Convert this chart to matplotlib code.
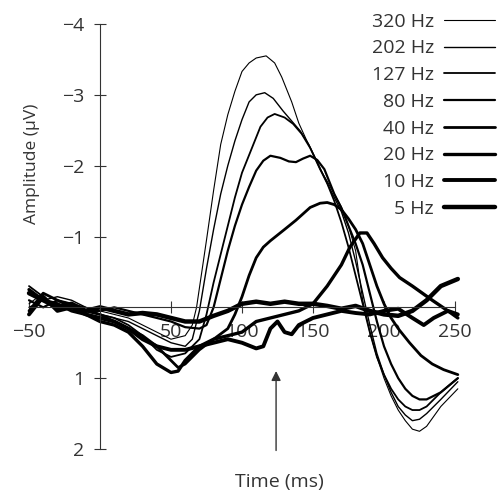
import matplotlib.pyplot as plt

plt.rcParams['font.family'] = ['Open Sans', 'DejaVu Sans']

labels = ['320 Hz', '202 Hz', '127 Hz', '80 Hz', '40 Hz', '20 Hz', '10 Hz', '5 Hz']
widths = [0.8, 1.0, 1.3, 1.6, 2.0, 2.4, 2.8, 3.2]

t_320 = [-50, -40, -30, -20, -10, 0, 10, 20, 30, 40, 50, 60, 65, 68, 75, 80, 85, 90, 95, 100,
         105, 110, 117, 123, 128, 135, 140, 145, 150, 155, 160, 165, 170, 175, 180, 185, 190,
         195, 200, 205, 210, 215, 220, 225, 230, 240, 252]
v_320 = [-0.05, -0.2, -0.1, -0.05, 0.0, 0.05, 0.1, 0.15, 0.25, 0.35, 0.45, 0.4, 0.25, 0.0,
         -0.95, -1.65, -2.3, -2.72, -3.05, -3.33, -3.45, -3.52, -3.55, -3.45, -3.25, -2.9,
         -2.6, -2.38, -2.17, -1.95, -1.78, -1.6, -1.42, -1.15, -0.8, -0.1, 0.35, 0.7, 1.0,
         1.25, 1.45, 1.6, 1.72, 1.75, 1.68, 1.4, 1.15]

t_202 = [-50, -40, -30, -20, -10, 0, 10, 20, 30, 40, 50, 60, 65, 70, 75, 80, 85, 90, 95, 100,
         105, 110, 116, 122, 129, 135, 141, 147, 153, 160, 165, 170, 175, 180, 185, 190, 195,
         200, 205, 210, 215, 220, 225, 230, 240, 252]
v_202 = [0.0, -0.1, -0.15, -0.1, 0.0, 0.1, 0.15, 0.2, 0.3, 0.4, 0.5, 0.55, 0.45, 0.05, -0.55,
         -1.1, -1.6, -2.0, -2.35, -2.65, -2.9, -3.0, -3.03, -2.95, -2.77, -2.63, -2.49, -2.3,
         -2.05, -1.75, -1.55, -1.35, -1.05, -0.65, -0.2, 0.25, 0.65, 0.95, 1.2, 1.4, 1.52,
         1.6, 1.58, 1.5, 1.3, 1.05]

t_127 = [-50, -40, -30, -20, -10, 0, 10, 20, 30, 40, 50, 60, 70, 75, 80, 85, 90, 95, 100, 106,
         113, 118, 123, 130, 136, 142, 148, 155, 160, 165, 170, 175, 180, 185, 190, 195, 200,
         205, 210, 215, 220, 225, 230, 240, 252]
v_127 = [-0.3, -0.15, 0.05, 0.0, 0.05, 0.1, 0.15, 0.25, 0.4, 0.6, 0.7, 0.65, 0.45, 0.1, -0.35,
         -0.75, -1.15, -1.55, -1.9, -2.2, -2.55, -2.68, -2.73, -2.68, -2.59, -2.45, -2.25,
         -1.95, -1.75, -1.5, -1.2, -0.85, -0.45, -0.05, 0.35, 0.7, 0.95, 1.15, 1.3, 1.4, 1.45,
         1.45, 1.4, 1.2, 1.0]

t_80 = [-50, -40, -30, -20, -10, 0, 10, 20, 30, 40, 50, 60, 70, 75, 80, 85, 90, 95, 100, 105,
        110, 115, 120, 127, 133, 138, 143, 148, 153, 158, 165, 170, 175, 180, 185, 190, 195,
        200, 205, 210, 215, 220, 225, 230, 240, 252]
v_80 = [-0.1, 0.0, -0.1, -0.05, 0.05, 0.05, 0.0, 0.05, 0.1, 0.15, 0.2, 0.28, 0.3, 0.25, 0.0,
        -0.4, -0.8, -1.15, -1.45, -1.7, -1.93, -2.07, -2.14, -2.11, -2.06, -2.05, -2.1, -2.14,
        -2.08, -1.95, -1.6, -1.4, -1.15, -0.9, -0.6, -0.2, 0.2, 0.55, 0.8, 1.0, 1.15, 1.25,
        1.3, 1.3, 1.2, 1.0]

t_40 = [-50, -40, -30, -20, -10, 0, 10, 20, 30, 40, 50, 55, 60, 70, 80, 90, 95, 100, 105, 110,
        115, 120, 125, 130, 138, 148, 155, 160, 165, 170, 175, 180, 185, 190, 195, 200, 205,
        210, 218, 226, 234, 242, 252]
v_40 = [0.05, -0.2, -0.1, 0.0, 0.05, 0.1, 0.2, 0.3, 0.4, 0.55, 0.75, 0.85, 0.8, 0.6, 0.45,
        0.3, 0.1, -0.15, -0.45, -0.7, -0.85, -0.94, -1.02, -1.1, -1.23, -1.41, -1.47, -1.48,
        -1.45, -1.38, -1.25, -1.1, -0.9, -0.6, -0.3, -0.05, 0.15, 0.3, 0.5, 0.68, 0.8, 0.88,
        0.95]

t_20 = [-50, -40, -30, -20, -10, 0, 10, 20, 30, 40, 50, 55, 60, 70, 80, 90, 100, 110, 120,
        130, 140, 150, 160, 170, 176, 183, 188, 193, 199, 205, 211, 220, 234, 245, 252]
v_20 = [-0.25, -0.1, -0.05, 0.05, 0.1, 0.2, 0.25, 0.35, 0.55, 0.8, 0.92, 0.9, 0.75, 0.55,
        0.45, 0.4, 0.35, 0.2, 0.15, 0.1, 0.05, -0.05, -0.3, -0.6, -0.85, -1.05, -1.05, -0.9,
        -0.7, -0.55, -0.42, -0.3, -0.1, 0.05, 0.15]

t_10 = [-50, -40, -30, -20, -10, 0, 10, 20, 30, 40, 50, 60, 70, 80, 90, 100, 110, 115, 120,
        125, 130, 135, 140, 150, 160, 170, 180, 190, 200, 210, 220, 228, 235, 245, 252]
v_10 = [0.1, -0.15, 0.05, 0.0, 0.1, 0.15, 0.2, 0.3, 0.45, 0.55, 0.6, 0.6, 0.55, 0.5, 0.45,
        0.5, 0.58, 0.55, 0.3, 0.2, 0.35, 0.38, 0.25, 0.15, 0.1, 0.05, 0.08, 0.1, 0.05, 0.02,
        0.15, 0.25, 0.15, 0.05, 0.1]

t_5 = [-50, -40, -30, -20, -10, 0, 10, 20, 30, 40, 50, 60, 70, 80, 90, 100, 110, 120, 130,
       140, 150, 160, 170, 180, 190, 200, 210, 220, 230, 240, 252]
v_5 = [-0.2, -0.1, 0.0, -0.05, 0.05, 0.0, 0.05, 0.1, 0.08, 0.1, 0.15, 0.2, 0.2, 0.12, 0.05,
       -0.05, -0.08, -0.05, -0.08, -0.05, -0.05, -0.02, 0.02, -0.02, 0.05, 0.1, 0.12, 0.05,
       -0.1, -0.3, -0.4]

times = [t_320, t_202, t_127, t_80, t_40, t_20, t_10, t_5]
values = [v_320, v_202, v_127, v_80, v_40, v_20, v_10, v_5]

x_ticks = [-50, 50, 100, 150, 200, 250]
y_ticks = [-4, -3, -2, -1, 1, 2]

fig = plt.figure(figsize=(4.99, 4.91), dpi=100)
ax = fig.add_axes([29 / 499, 1 - 449 / 491, 426 / 499, 425 / 491])

grey = '#333333'
for t, v, lab, lw in zip(times, values, labels, widths):
    ax.plot(t, v, color='black', lw=lw, label=lab, clip_on=False, solid_capstyle='round')

ax.set_xlim(-50, 250)
ax.set_ylim(2, -4)
ax.spines['left'].set_position(('data', 0))
ax.spines['bottom'].set_position(('data', 0))
ax.spines['top'].set_visible(False)
ax.spines['right'].set_visible(False)
for s in ['left', 'bottom']:
    ax.spines[s].set_color(grey)
    ax.spines[s].set_linewidth(0.8)

ax.set_xticks(x_ticks)
ax.set_yticks(y_ticks)
ax.tick_params(direction='inout', length=8, width=0.8, color=grey, labelcolor=grey,
               labelsize=14, pad=7)

ax.set_xlabel('Time (ms)', fontsize=14, color=grey)
ax.xaxis.set_label_coords(0.587, -0.056)
ax.set_ylabel('Amplitude (µV)', fontsize=12.5, color=grey)
ax.yaxis.set_label_coords(0.025, 0.67)

ax.annotate('', xy=(124, 0.86), xytext=(124, 2.06),
            arrowprops=dict(arrowstyle='-|>', color=grey, lw=1, mutation_scale=14),
            annotation_clip=False)

fig.legend(loc='upper right', bbox_to_anchor=(1.0, 0.982), frameon=False, markerfirst=False,
           fontsize=14, handlelength=2.65, handletextpad=0.5, labelspacing=0.45,
           borderaxespad=0.1, borderpad=0.1, labelcolor=grey)

fig.savefig('out.png', dpi=100)
